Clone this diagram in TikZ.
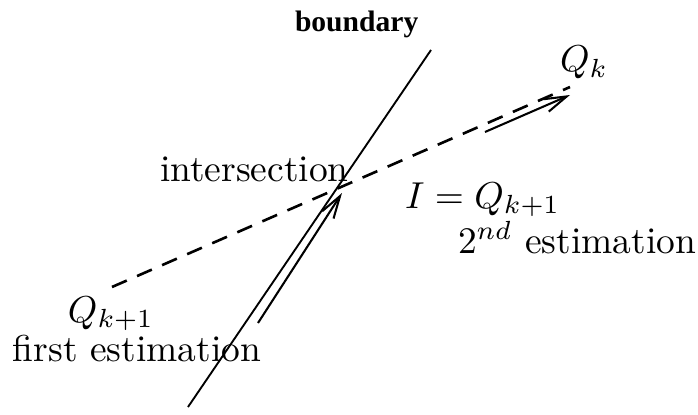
\documentclass[tikz,border=0pt]{standalone}
\usepackage{fontspec}
\newfontfamily\bndfont{Liberation Serif}
\usetikzlibrary{arrows.meta}

\begin{document}
\begin{tikzpicture}[x=0.267pt,y=-0.267pt,
  every node/.style={inner sep=0pt,outer sep=0pt},
  lbl/.style={anchor=base west},
  move/.style={line width=0.55pt,-{Straight Barb[length=6pt,width=3.6pt]}}]
  \useasboundingbox (0,0) rectangle (698,415);
  % boundary and the line from Q_{k+1} to Q_k
  \coordinate (btop) at (431,50);
  \coordinate (bbot) at (188,407);
  \coordinate (qold) at (112,287);
  \coordinate (qk) at (570,87);
  \draw[line width=0.5pt] (bbot) -- (btop);
  \draw[line width=0.7pt,dash pattern=on 4.3pt off 3pt] (qold) -- (qk);
  % the two moves
  \coordinate (mvas) at (258,323);
  \coordinate (mvae) at (342,193);
  \coordinate (mvbs) at (485,132);
  \coordinate (mvbe) at (570,95);
  \draw[move] (mvas) -- (mvae);
  \draw[move] (mvbs) -- (mvbe);
  % labels
  \node[lbl,font=\bndfont\bfseries\fontsize{7.9}{9}\selectfont] (bnd) at (295,32) {boundary};
  \node[lbl] (qklbl) at (560,72) {$Q_k$};
  \node[lbl] (inter) at (160,181) {intersection};
  \node[lbl] (ieq) at (405,208) {$I = Q_{k+1}$};
  \node[lbl] (second) at (458,253) {$2^{nd}$ estimation};
  \node[lbl] (qnext) at (68,322) {$Q_{k+1}$};
  \node[lbl] (first) at (13,361) {first estimation};
\end{tikzpicture}
\end{document}
